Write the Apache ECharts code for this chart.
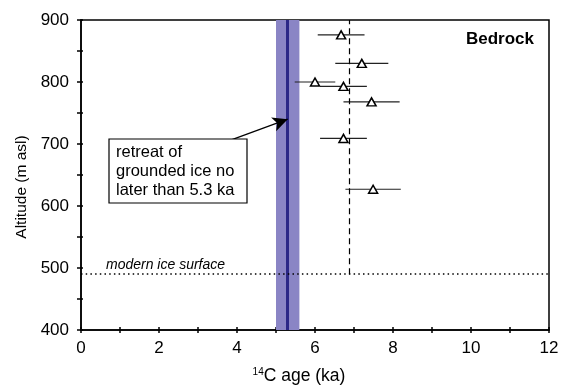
<!DOCTYPE html>
<html><head><meta charset="utf-8">
<script src="https://cdn.jsdelivr.net/npm/echarts@6/dist/echarts.min.js"></script>
<style>html,body{margin:0;padding:0;background:#fff}#c{width:569px;height:386px}</style>
</head><body><div id="c"></div>
<script>
// Data
const ages = [6.67, 7.2, 6.0, 6.73, 7.45, 6.73, 7.49];       // 14C age (ka)
const altitudes = [876, 830, 800, 793, 768, 709, 627];       // m asl
const errors = [0.6, 0.68, 0.52, 0.6, 0.72, 0.6, 0.71];      // +/- ka
const retreatAge = 5.3;
const retreatBand = [5.0, 5.6];
const meanAge = 6.87;
const iceSurface = 490;
const arrowFrom = [3.82, 706];
const arrowTo = [5.3, 740];
const xTicks = [0, 2, 4, 6, 8, 10, 12];
const yTicks = [400, 500, 600, 700, 800, 900];

const FONT = "'Liberation Sans', Arial, sans-serif";
const chart = echarts.init(document.getElementById('c'));

const baseX = {type: 'value', min: 0, max: 12, interval: 1, position: 'bottom'};
const baseY = {type: 'value', min: 400, max: 900, interval: 50, position: 'left'};

chart.setOption({
  animation: false,
  backgroundColor: '#fff',
  grid: {left: 81, right: 20, top: 20, bottom: 56, show: true, borderColor: '#000', borderWidth: 1.5, backgroundColor: 'transparent'},
  xAxis: [
    Object.assign({}, baseX, {
      axisLine: {show: true, lineStyle: {color: '#000', width: 1.5}},
      axisTick: {show: true, inside: false, length: 3, lineStyle: {color: '#000', width: 1.5}},
      axisLabel: {show: true, color: '#000', fontSize: 17, fontFamily: FONT, margin: 10,
        formatter: v => xTicks.indexOf(v) >= 0 ? String(v) : ''},
      splitLine: {show: false}
    }),
    Object.assign({}, baseX, {
      axisLine: {show: false},
      axisTick: {show: true, inside: true, length: 3, lineStyle: {color: '#000', width: 1.5}},
      axisLabel: {show: false}, splitLine: {show: false}
    })
  ],
  yAxis: [
    Object.assign({}, baseY, {
      axisLine: {show: true, lineStyle: {color: '#000', width: 1.5}},
      axisTick: {show: true, inside: false, length: 4, lineStyle: {color: '#000', width: 1.5}},
      axisLabel: {show: true, color: '#000', fontSize: 17, fontFamily: FONT, margin: 12,
        formatter: v => yTicks.indexOf(v) >= 0 ? String(v) : ''},
      splitLine: {show: false}
    }),
    Object.assign({}, baseY, {
      axisLine: {show: false},
      axisTick: {show: true, inside: true, length: 2, lineStyle: {color: '#000', width: 1.5}},
      axisLabel: {show: false}, splitLine: {show: false}
    })
  ],
  series: [
    {
      type: 'line', data: [], xAxisIndex: 0, yAxisIndex: 0, silent: true,
      markArea: {
        silent: true,
        itemStyle: {color: '#8a85c5', opacity: 1},
        data: [[{xAxis: retreatBand[0], yAxis: 400}, {xAxis: retreatBand[1], yAxis: 900}]]
      },
      markLine: {
        silent: true, symbol: 'none', animation: false,
        label: {show: false},
        data: [
          [{coord: [retreatAge, 400], lineStyle: {color: '#2b2787', width: 3, type: 'solid'}}, {coord: [retreatAge, 900]}],
          [{coord: [meanAge, iceSurface], lineStyle: {color: '#000', width: 1.2, type: [6, 4]}}, {coord: [meanAge, 900]}],
          [{coord: [0, iceSurface], lineStyle: {color: '#000', width: 1.5, type: [1.5, 3.2]}}, {coord: [12, iceSurface]}]
        ]
      },
      z: 1
    },
    {
      type: 'line', data: [], silent: true,
      markLine: {
        silent: true, symbol: ['none', 'arrow'], symbolSize: [11, 15], animation: false,
        label: {show: false},
        lineStyle: {color: '#000', width: 1.3, type: 'solid'},
        data: [[{coord: arrowFrom}, {coord: arrowTo}]]
      },
      z: 3
    },
    {
      type: 'custom', silent: true, z: 4,
      data: ages.map((a, i) => [a - errors[i], a + errors[i], altitudes[i]]),
      encode: {x: [0, 1], y: 2},
      renderItem: function (params, api) {
        const lo = api.coord([api.value(0), api.value(2)]);
        const hi = api.coord([api.value(1), api.value(2)]);
        return {type: 'line', shape: {x1: lo[0], y1: lo[1], x2: hi[0], y2: hi[1]},
          style: {stroke: '#222', lineWidth: 1.2}};
      }
    },
    {
      type: 'scatter', z: 5,
      data: ages.map((a, i) => [a, altitudes[i]]),
      symbol: 'triangle', symbolSize: [9, 8],
      itemStyle: {color: '#fff', borderColor: '#000', borderWidth: 1.5, opacity: 1}
    }
  ],
  graphic: [
    {type: 'rect', shape: {x: 109, y: 139, width: 138, height: 64}, z: 10,
      style: {fill: '#fff', stroke: '#000', lineWidth: 1.2}},
    {type: 'text', x: 116, y: 171, z: 11,
      style: {text: 'retreat of\ngrounded ice no\nlater than 5.3 ka', font: '16.5px ' + FONT, fill: '#000',
        lineHeight: 19, textVerticalAlign: 'middle', verticalAlign: 'middle', textAlign: 'left'}},
    {type: 'text', x: 500, y: 39, z: 11,
      style: {text: 'Bedrock', font: 'bold 17px ' + FONT, fill: '#000', textAlign: 'center', align: 'center', verticalAlign: 'middle'}},
    {type: 'text', x: 105, y: 265, z: 11,
      style: {text: 'modern ice surface', font: 'italic 14px ' + FONT, fill: '#000', align: 'left', verticalAlign: 'middle',
        backgroundColor: '#fff', padding: [0, 1, 2, 1]}},
    {type: 'text', x: 22, y: 187, rotation: Math.PI / 2, z: 11,
      style: {text: 'Altitude (m asl)', font: '15.5px ' + FONT, fill: '#000', align: 'center', verticalAlign: 'middle'}},
    {type: 'text', x: 299, y: 376, z: 11,
      style: {text: '{s|14}{n|C age (ka)}', align: 'center', verticalAlign: 'middle', fill: '#000',
        rich: {s: {fontSize: 10, fontFamily: FONT, verticalAlign: 'top', padding: [0, 0, 8, 0]},
               n: {fontSize: 17.5, fontFamily: FONT}}}}
  ]
});
</script>
</body></html>
